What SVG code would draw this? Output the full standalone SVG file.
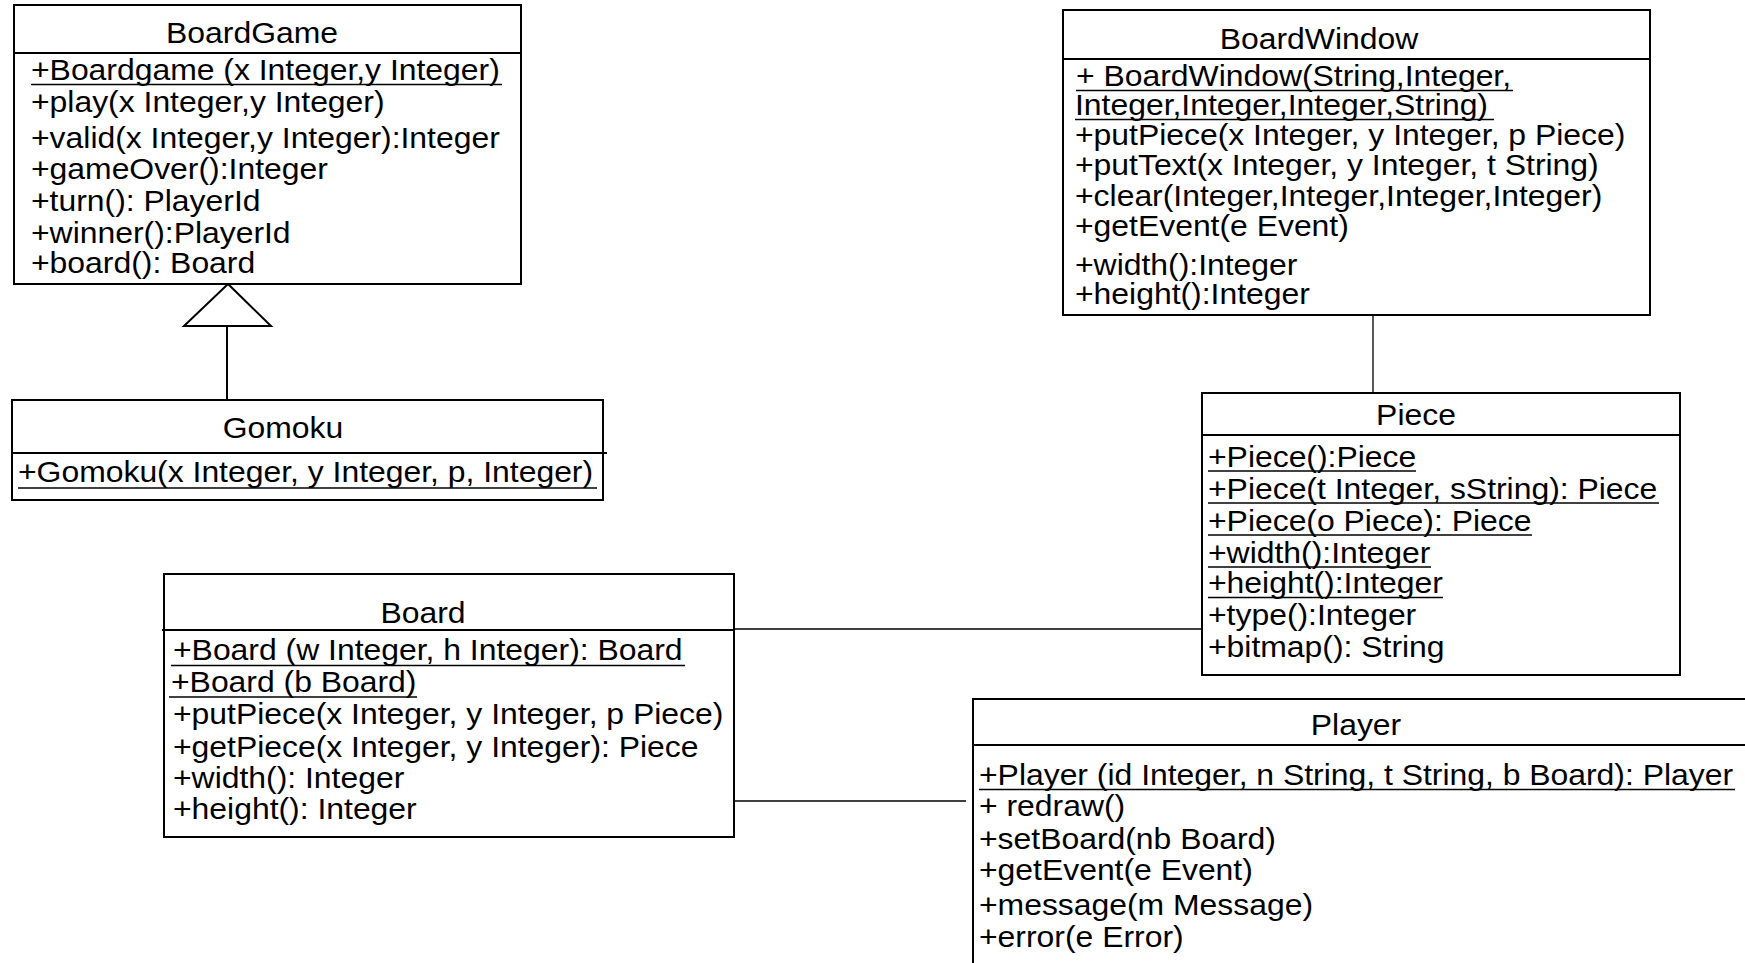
<svg xmlns="http://www.w3.org/2000/svg" width="1745" height="963" viewBox="0 0 1745 963">
<style>
.box{fill:#fff;stroke:#000;stroke-width:2}
.div{stroke:#000;stroke-width:2;fill:none}
.conn{stroke:#000;stroke-width:1.3;fill:none}
.inh{stroke:#000;stroke-width:2;fill:none}
.tri{fill:#fff;stroke:#000;stroke-width:2}
.ul{stroke:#000;stroke-width:1.5;fill:none}
text{font-family:"Liberation Sans",Arial,Helvetica,sans-serif;font-size:29px;fill:#000}
.t{text-anchor:middle}
</style>
<rect width="1745" height="963" fill="#fff"/>

<g id="connectors">
  <line class="inh" x1="227" y1="326" x2="227" y2="400"/>
  <polygon class="tri" points="228,284 184,326 271,326"/>
  <line class="conn" x1="733" y1="629" x2="1202" y2="629"/>
  <line class="conn" x1="734" y1="801" x2="966" y2="801"/>
  <line class="conn" x1="1373" y1="315" x2="1373" y2="393"/>
</g>

<g id="BoardGame">
  <rect class="box" x="14" y="5" width="507" height="279"/>
  <line class="div" x1="14" y1="53" x2="521" y2="53"/>
  <text class="t" transform="translate(252 43) scale(1.1 1)">BoardGame</text>
  <text transform="translate(31 80) scale(1.1 1)">+Boardgame (x Integer,y Integer)</text>
  <line class="ul" x1="31" y1="84.5" x2="502" y2="84.5"/>
  <text transform="translate(31 112) scale(1.1 1)">+play(x Integer,y Integer)</text>
  <text transform="translate(31 148) scale(1.1 1)">+valid(x Integer,y Integer):Integer</text>
  <text transform="translate(31 179) scale(1.1 1)">+gameOver():Integer</text>
  <text transform="translate(31 211) scale(1.1 1)">+turn(): PlayerId</text>
  <text transform="translate(31 243) scale(1.1 1)">+winner():PlayerId</text>
  <text transform="translate(31 273) scale(1.1 1)">+board(): Board</text>
</g>

<g id="Gomoku">
  <rect class="box" x="12" y="400" width="591" height="100"/>
  <line class="div" x1="12" y1="453" x2="607" y2="453"/>
  <text class="t" transform="translate(283 438) scale(1.1 1)">Gomoku</text>
  <text transform="translate(18 482) scale(1.1 1)">+Gomoku(x Integer, y Integer, p, Integer)</text>
  <line class="ul" x1="18" y1="488" x2="597" y2="488"/>
</g>

<g id="Board">
  <rect class="box" x="164" y="574" width="570" height="263"/>
  <line class="div" x1="162" y1="630" x2="733" y2="630"/>
  <text class="t" transform="translate(423 623) scale(1.1 1)">Board</text>
  <text transform="translate(173 660) scale(1.1 1)">+Board (w Integer, h Integer): Board</text>
  <line class="ul" x1="171" y1="665.5" x2="685" y2="665.5"/>
  <text transform="translate(171 692) scale(1.1 1)">+Board (b Board)</text>
  <line class="ul" x1="169" y1="697" x2="417" y2="697"/>
  <text transform="translate(173 724) scale(1.1 1)">+putPiece(x Integer, y Integer, p Piece)</text>
  <text transform="translate(173 757) scale(1.1 1)">+getPiece(x Integer, y Integer): Piece</text>
  <text transform="translate(173 788) scale(1.1 1)">+width(): Integer</text>
  <text transform="translate(173 819) scale(1.1 1)">+height(): Integer</text>
</g>

<g id="BoardWindow">
  <rect class="box" x="1063" y="10" width="587" height="305"/>
  <line class="div" x1="1063" y1="59" x2="1650" y2="59"/>
  <text class="t" transform="translate(1319 49) scale(1.1 1)">BoardWindow</text>
  <text transform="translate(1076 86) scale(1.1 1)">+ BoardWindow(String,Integer,</text>
  <line class="ul" x1="1076" y1="90.5" x2="1513" y2="90.5"/>
  <text transform="translate(1075 115) scale(1.1 1)">Integer,Integer,Integer,String)</text>
  <line class="ul" x1="1075" y1="119.5" x2="1494" y2="119.5"/>
  <text transform="translate(1075 145) scale(1.1 1)">+putPiece(x Integer, y Integer, p Piece)</text>
  <text transform="translate(1075 175) scale(1.1 1)">+putText(x Integer, y Integer, t String)</text>
  <text transform="translate(1075 206) scale(1.1 1)">+clear(Integer,Integer,Integer,Integer)</text>
  <text transform="translate(1075 236) scale(1.1 1)">+getEvent(e Event)</text>
  <text transform="translate(1075 275) scale(1.1 1)">+width():Integer</text>
  <text transform="translate(1075 304) scale(1.1 1)">+height():Integer</text>
</g>

<g id="Piece">
  <rect class="box" x="1202" y="393" width="478" height="282"/>
  <line class="div" x1="1202" y1="435" x2="1680" y2="435"/>
  <text class="t" transform="translate(1416 425) scale(1.1 1)">Piece</text>
  <text transform="translate(1208 467) scale(1.1 1)">+Piece():Piece</text>
  <line class="ul" x1="1208" y1="471" x2="1416" y2="471"/>
  <text transform="translate(1208 499) scale(1.1 1)">+Piece(t Integer, sString): Piece</text>
  <line class="ul" x1="1208" y1="503" x2="1659" y2="503"/>
  <text transform="translate(1208 531) scale(1.1 1)">+Piece(o Piece): Piece</text>
  <line class="ul" x1="1208" y1="535" x2="1532" y2="535"/>
  <text transform="translate(1208 563) scale(1.1 1)">+width():Integer</text>
  <line class="ul" x1="1208" y1="567" x2="1431" y2="567"/>
  <text transform="translate(1208 593) scale(1.1 1)">+height():Integer</text>
  <line class="ul" x1="1208" y1="597.5" x2="1443" y2="597.5"/>
  <text transform="translate(1208 625) scale(1.1 1)">+type():Integer</text>
  <text transform="translate(1208 657) scale(1.1 1)">+bitmap(): String</text>
</g>

<g id="Player">
  <rect class="box" x="973" y="699" width="900" height="400"/>
  <line class="div" x1="973" y1="745" x2="1745" y2="745"/>
  <text class="t" transform="translate(1356 735) scale(1.1 1)">Player</text>
  <text transform="translate(979 785) scale(1.1 1)">+Player (id Integer, n String, t String, b Board): Player</text>
  <line class="ul" x1="979" y1="789.5" x2="1735" y2="789.5"/>
  <text transform="translate(979 816) scale(1.1 1)">+ redraw()</text>
  <text transform="translate(979 849) scale(1.1 1)">+setBoard(nb Board)</text>
  <text transform="translate(979 880) scale(1.1 1)">+getEvent(e Event)</text>
  <text transform="translate(979 915) scale(1.1 1)">+message(m Message)</text>
  <text transform="translate(979 947) scale(1.1 1)">+error(e Error)</text>
</g>
</svg>
